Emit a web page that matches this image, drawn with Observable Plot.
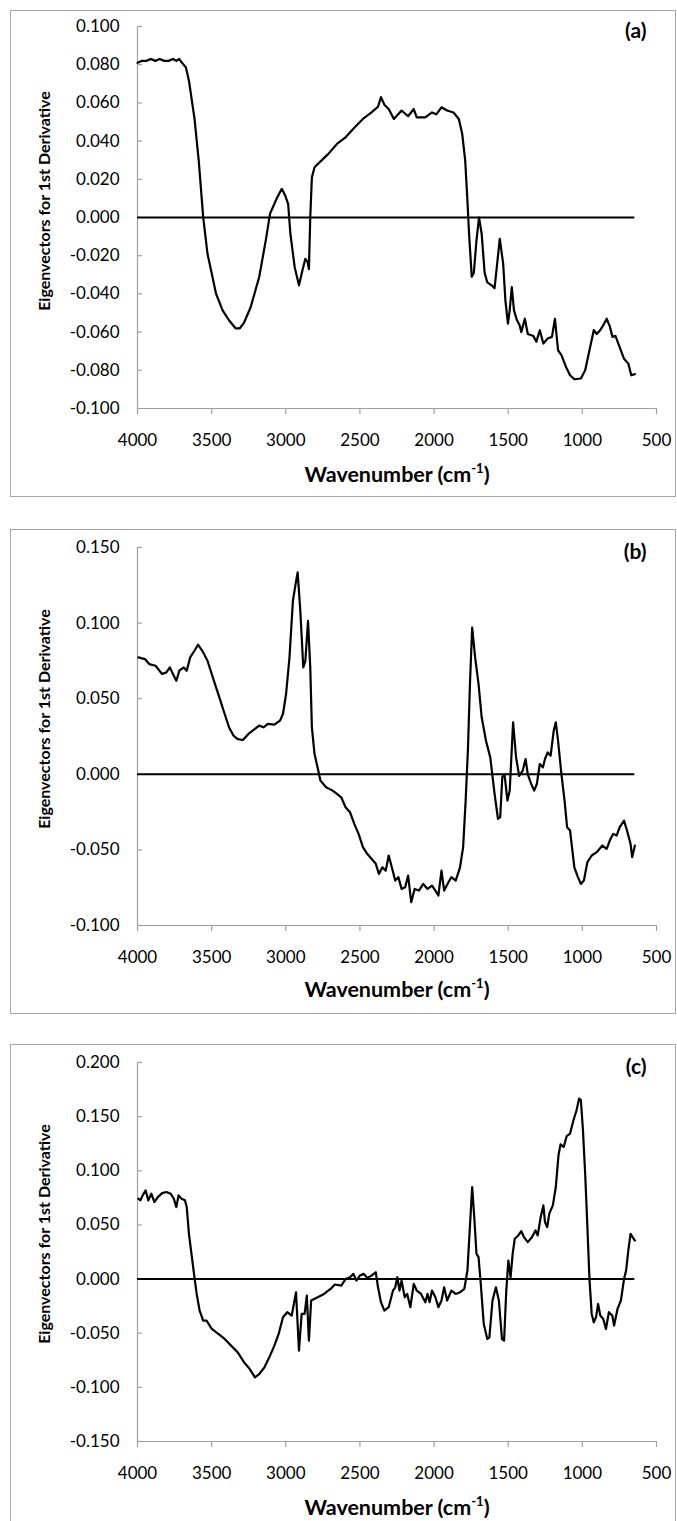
<!DOCTYPE html>
<html><head><meta charset="utf-8">
<script src="https://cdn.jsdelivr.net/npm/d3@7"></script>
<script src="https://cdn.jsdelivr.net/npm/@observablehq/plot@0.6"></script>
<style>
body{margin:0;background:#fff;font-family:Lato,"Open Sans",sans-serif;}
#page{position:relative;width:677px;height:1521px;overflow:hidden;background:#fff;}
.panel{position:absolute;left:10px;width:666px;border:1px solid #a6a6a6;box-sizing:border-box;background:#fff;}
.panel svg{position:absolute;left:0;top:0;}
.xt{position:absolute;font-weight:bold;font-size:21.5px;transform:translate(-50%,-50%);white-space:nowrap;color:#000;}
.xt sup{font-size:13px;vertical-align:9px;line-height:0;}
.yt{position:absolute;font-weight:bold;font-size:16px;transform:translate(-50%,-50%) rotate(-90deg);white-space:nowrap;color:#000;}
</style></head>
<body><div id="page"></div>
<script>
// ---- data (wavenumber in cm-1, eigenvector value) ----
const xTicks = [4000, 3500, 3000, 2500, 2000, 1500, 1000, 500];

const wnA = [4000,3970,3940,3910,3880,3850,3820,3790,3760,3738,3720,3700,3674,3653,3616,3587,3557,3528,3499,3470,3426,3383,3339,3310,3281,3237,3179,3135,3106,3062,3027,3004,2984,2969,2940,2911,2888,2868,2853,2844,2835,2824,2806,2771,2713,2655,2597,2538,2480,2422,2378,2358,2335,2306,2271,2219,2175,2137,2117,2059,2014,1985,1950,1912,1869,1833,1810,1790,1775,1764,1746,1732,1714,1697,1679,1659,1641,1612,1592,1577,1557,1534,1519,1502,1490,1476,1461,1441,1423,1412,1388,1368,1330,1310,1287,1263,1234,1205,1185,1164,1141,1112,1083,1054,1010,981,952,923,903,880,859,836,815,797,777,748,719,690,670,646];
const valA = [0.081,0.082,0.082,0.083,0.082,0.083,0.082,0.082,0.083,0.082,0.083,0.081,0.0786,0.0716,0.052,0.0298,0.0002,-0.019,-0.0294,-0.040,-0.0486,-0.0538,-0.058,-0.058,-0.055,-0.047,-0.031,-0.012,0.002,0.0098,0.015,0.0115,0.0071,-0.0085,-0.026,-0.0355,-0.0277,-0.0216,-0.0233,-0.027,0.000,0.021,0.0263,0.029,0.0333,0.0385,0.042,0.047,0.0516,0.055,0.058,0.063,0.059,0.0568,0.0516,0.056,0.053,0.0568,0.0524,0.0524,0.055,0.054,0.0577,0.056,0.055,0.0516,0.0437,0.0298,0.0087,-0.0085,-0.031,-0.029,-0.012,0.000,-0.0085,-0.029,-0.034,-0.0355,-0.037,-0.026,-0.0112,-0.0242,-0.0434,-0.0556,-0.0486,-0.0364,-0.0486,-0.0538,-0.0564,-0.060,-0.053,-0.061,-0.062,-0.065,-0.059,-0.066,-0.0634,-0.0625,-0.053,-0.0695,-0.072,-0.078,-0.0826,-0.0847,-0.0843,-0.080,-0.0695,-0.059,-0.061,-0.059,-0.0564,-0.053,-0.057,-0.0625,-0.062,-0.068,-0.074,-0.0765,-0.0826,-0.082];

const wnB = [3994,3950,3921,3878,3834,3805,3782,3761,3738,3718,3688,3668,3645,3616,3592,3563,3528,3485,3441,3412,3383,3353,3324,3289,3252,3208,3179,3150,3121,3077,3039,3019,2998,2975,2952,2934,2920,2902,2882,2868,2850,2835,2824,2806,2786,2766,2728,2684,2655,2626,2597,2567,2538,2509,2480,2451,2422,2393,2372,2349,2326,2306,2285,2262,2241,2219,2195,2175,2154,2131,2102,2073,2044,2014,1991,1971,1950,1932,1903,1883,1854,1825,1804,1787,1772,1758,1743,1723,1700,1679,1650,1621,1592,1569,1554,1540,1525,1505,1490,1467,1447,1426,1403,1383,1368,1345,1325,1307,1287,1266,1252,1234,1214,1193,1179,1164,1141,1120,1103,1083,1054,1030,1010,990,966,937,903,865,836,815,792,769,748,719,699,675,664,646];
const valB = [0.0773,0.0762,0.0729,0.0718,0.0663,0.0674,0.0707,0.0663,0.0619,0.0685,0.0707,0.0685,0.0773,0.0817,0.0857,0.0817,0.0751,0.0619,0.0487,0.0399,0.0311,0.0256,0.0233,0.0227,0.0267,0.030,0.0322,0.0311,0.0333,0.0328,0.0355,0.0399,0.0531,0.0773,0.1148,0.1258,0.1335,0.1081,0.0707,0.0751,0.1015,0.0707,0.0311,0.0134,0.0046,-0.0042,-0.0086,-0.0108,-0.013,-0.0152,-0.0218,-0.0251,-0.0328,-0.0394,-0.0482,-0.0526,-0.0559,-0.0592,-0.0659,-0.0615,-0.0637,-0.0537,-0.0615,-0.0703,-0.068,-0.0758,-0.0747,-0.067,-0.0846,-0.0758,-0.0769,-0.0725,-0.0758,-0.0736,-0.0769,-0.0802,-0.0637,-0.0769,-0.0714,-0.068,-0.0703,-0.0615,-0.0482,-0.0174,0.0156,0.0597,0.0971,0.0773,0.0597,0.0377,0.0222,0.0112,-0.013,-0.0295,-0.0284,-0.0019,0.000,-0.0174,-0.0108,0.0344,0.0112,-0.0011,0.0022,0.0101,0.000,-0.0064,-0.0108,-0.0064,0.0068,0.0046,0.0101,0.0145,0.0123,0.0289,0.0344,0.0222,0.000,-0.0174,-0.035,-0.0372,-0.0615,-0.068,-0.0725,-0.0703,-0.0581,-0.0537,-0.0515,-0.0471,-0.0493,-0.0438,-0.0394,-0.0405,-0.035,-0.0306,-0.0372,-0.046,-0.0548,-0.0471];

const wnC = [3994,3980,3965,3945,3927,3907,3886,3863,3834,3805,3776,3755,3738,3723,3703,3680,3668,3653,3636,3616,3601,3581,3557,3534,3499,3455,3412,3368,3324,3281,3243,3208,3179,3144,3106,3077,3048,3019,2990,2960,2931,2911,2893,2873,2858,2844,2829,2785,2742,2698,2669,2626,2597,2567,2544,2524,2500,2474,2451,2422,2393,2378,2358,2335,2306,2277,2262,2248,2233,2219,2198,2181,2160,2137,2117,2088,2059,2044,2030,2014,1991,1971,1950,1932,1912,1883,1854,1825,1796,1775,1761,1743,1729,1714,1700,1685,1665,1641,1627,1606,1583,1563,1542,1528,1513,1499,1484,1470,1456,1432,1412,1394,1368,1339,1316,1301,1281,1263,1252,1237,1223,1199,1179,1161,1147,1126,1106,1083,1060,1039,1022,1010,996,981,966,952,937,923,908,894,879,859,841,821,798,786,763,740,719,705,690,675,661,646];
const valC = [0.0742,0.0727,0.0773,0.0819,0.0727,0.0788,0.0711,0.0757,0.0794,0.0804,0.0788,0.0742,0.0665,0.0773,0.0742,0.0727,0.0665,0.0418,0.0233,0.0017,-0.0137,-0.0291,-0.0384,-0.0384,-0.0461,-0.0507,-0.0553,-0.0615,-0.0677,-0.0769,-0.0831,-0.0908,-0.0877,-0.0815,-0.0707,-0.0615,-0.0507,-0.0353,-0.0306,-0.0337,-0.0122,-0.0661,-0.0322,-0.0322,-0.0152,-0.0569,-0.0198,-0.0168,-0.0137,-0.0091,-0.005,-0.006,0.000,0.0016,0.0048,-0.0014,0.0032,0.0048,0.0011,0.0032,0.0063,-0.0076,-0.0214,-0.0291,-0.026,-0.0106,-0.0076,0.0017,-0.0106,-0.0014,-0.0168,-0.0137,-0.026,-0.0045,-0.0106,-0.0137,-0.0214,-0.0137,-0.0214,-0.0106,-0.0168,-0.026,-0.0198,-0.0076,-0.0198,-0.0106,-0.0137,-0.0122,-0.0091,0.0079,0.0418,0.085,0.0573,0.0233,0.0202,-0.0045,-0.0415,-0.0553,-0.0538,-0.0198,-0.0076,-0.0198,-0.0553,-0.0569,-0.0106,0.0171,0.0017,0.0233,0.0372,0.0403,0.0443,0.0388,0.0341,0.0388,0.0449,0.0403,0.0573,0.068,0.0526,0.048,0.0604,0.068,0.085,0.1143,0.1245,0.122,0.1319,0.1343,0.1467,0.1559,0.1667,0.1652,0.1374,0.0973,0.048,0.000,-0.0322,-0.0399,-0.0353,-0.023,-0.0337,-0.0368,-0.0461,-0.0306,-0.0337,-0.043,-0.0276,-0.0198,0.000,0.0079,0.0264,0.0418,0.0387,0.0356];

const yTicksA = [-0.100,-0.080,-0.060,-0.040,-0.020,0.000,0.020,0.040,0.060,0.080,0.100];
const yTicksB = [-0.100,-0.050,0.000,0.050,0.100,0.150];
const yTicksC = [-0.150,-0.100,-0.050,0.000,0.050,0.100,0.150,0.200];
const panelLabels = ["(a)","(b)","(c)"];
const xTitle = "Wavenumber (cm<sup>-1</sup>)";
const yTitle = "Eigenvectors for 1st Derivative";

// ---- drawing ----
const fmtY = d3.formatLocale({decimal:".",thousands:",",grouping:[3],currency:["",""],minus:"-"}).format(".3f");
const page = document.getElementById("page");
const W = 664, ML = 126, MR = 19;
const plotW = W - ML - MR;
const axisGray = "#a0a0a0";

function makePanel(wn, val, yTicks, label, top, height, mt, mb, xtY, ytY){
  const div = document.createElement("div");
  div.className = "panel";
  div.style.top = top + "px";
  div.style.height = (height + 2) + "px";
  const data = wn.map((w,i)=>({w, v: val[i]}));
  const yMin = yTicks[0], yMax = yTicks[yTicks.length-1];
  const svg = Plot.plot({
    width: W, height,
    marginLeft: ML, marginRight: MR, marginTop: mt, marginBottom: mb,
    x: {domain: [4000, 500]},
    y: {domain: [yMin, yMax]},
    style: {fontFamily: "Lato, 'Open Sans', sans-serif", fontSize: "17px", color: "black", background: "white"},
    marks: [
      Plot.ruleX([4000], {y1: yMin, y2: yMax, stroke: axisGray, strokeWidth: 1.2}),
      Plot.ruleY([yMin], {stroke: axisGray, strokeWidth: 1.2}),
      Plot.tickY(yTicks, {y: d => d, insetRight: plotW - 5, stroke: axisGray, strokeWidth: 1.2}),
      Plot.axisY({ticks: yTicks, tickFormat: fmtY, tickSize: 0, tickPadding: 18, fill: "black", label: null}),
      Plot.axisX({ticks: xTicks, tickFormat: d => String(d), tickSize: 6, tickPadding: 19, stroke: axisGray, strokeWidth: 1.2, fill: "black", label: null}),
      Plot.ruleY([{y: 0, x1: 4000, x2: wn[wn.length-1]}], {y: "y", x1: "x1", x2: "x2", stroke: "black", strokeWidth: 2}),
      Plot.line(data, {x: "w", y: "v", stroke: "black", strokeWidth: 2.2, strokeLinejoin: "round"}),
      Plot.text([label], {frameAnchor: "top-right", dx: -10, dy: -3, fontWeight: "bold", fontSize: 21, fill: "black"})
    ]
  });
  div.appendChild(svg);
  const xt = document.createElement("div");
  xt.className = "xt"; xt.innerHTML = xTitle;
  xt.style.left = "386px"; xt.style.top = xtY + "px";
  div.appendChild(xt);
  const yt = document.createElement("div");
  yt.className = "yt"; yt.textContent = yTitle;
  yt.style.left = "32px"; yt.style.top = ytY + "px";
  div.appendChild(yt);
  page.appendChild(div);
}

makePanel(wnA, valA, yTicksA, panelLabels[0], 10, 485, 15, 88, 463, 190);
makePanel(wnB, valB, yTicksB, panelLabels[1], 529, 483, 17, 88, 459, 189);
makePanel(wnC, valC, yTicksC, panelLabels[2], 1044, 480, 17, 84, 462, 189);
</script>
</body></html>
